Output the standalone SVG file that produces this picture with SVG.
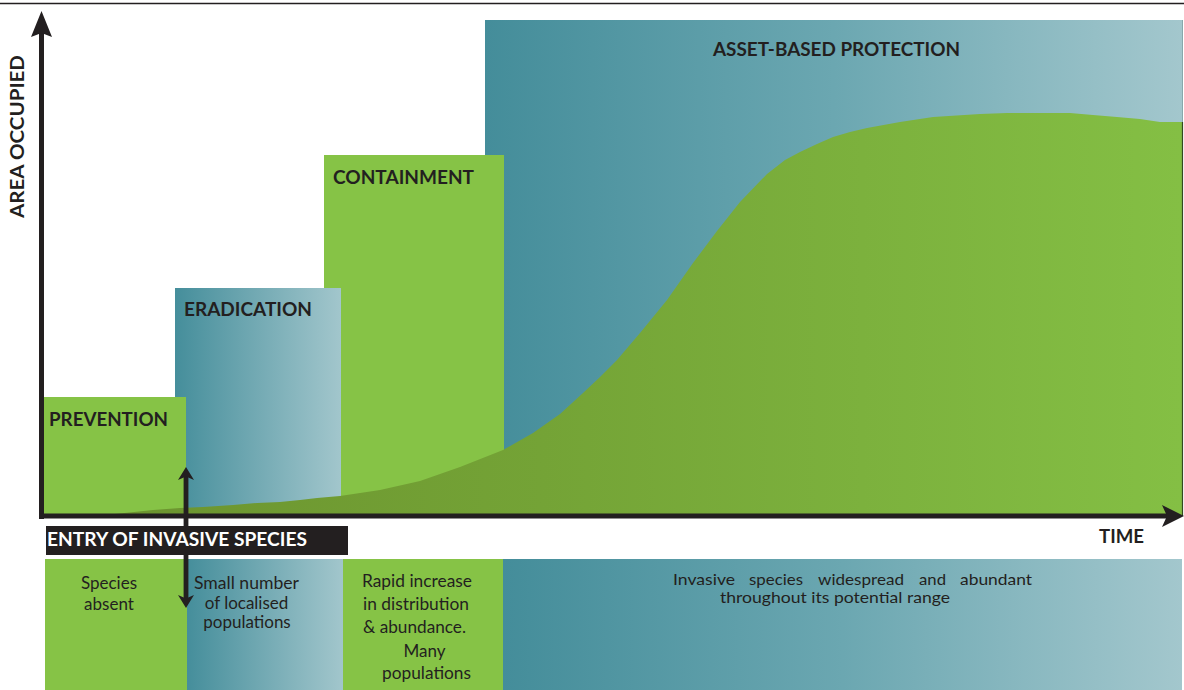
<svg xmlns="http://www.w3.org/2000/svg" width="1184" height="690" viewBox="0 0 1184 690">
<style>
.lbl{font-family:Lato,"Open Sans","Liberation Sans",sans-serif;font-weight:bold;font-size:19px;fill:#231f20}
.txt{font-family:Lato,"Open Sans","Liberation Sans",sans-serif;font-size:17px;fill:#231f20}
.txt2{font-family:Lato,"Open Sans","Liberation Sans",sans-serif;font-size:16px;fill:#231f20}
.green{fill:#86c346}
.ax{fill:#231f20}
</style>
<defs>
<linearGradient id="gAsset" gradientUnits="userSpaceOnUse" x1="485" y1="0" x2="1182" y2="0">
<stop offset="0" stop-color="#448d9a"/><stop offset="0.5" stop-color="#6ba7b1"/><stop offset="1" stop-color="#a3c7cd"/>
</linearGradient>
<linearGradient id="gErad" gradientUnits="userSpaceOnUse" x1="175" y1="0" x2="341" y2="0">
<stop offset="0" stop-color="#458e9b"/><stop offset="1" stop-color="#a2c6cc"/>
</linearGradient>
<linearGradient id="gB2" gradientUnits="userSpaceOnUse" x1="187" y1="0" x2="343" y2="0">
<stop offset="0" stop-color="#458e9b"/><stop offset="1" stop-color="#a2c6cc"/>
</linearGradient>
<linearGradient id="gB4" gradientUnits="userSpaceOnUse" x1="503" y1="0" x2="1182" y2="0">
<stop offset="0" stop-color="#448d9a"/><stop offset="0.5" stop-color="#6ba7b1"/><stop offset="1" stop-color="#a3c7cd"/>
</linearGradient>
<linearGradient id="gCurve" gradientUnits="userSpaceOnUse" x1="115" y1="0" x2="1182" y2="0">
<stop offset="0" stop-color="#6c942f"/><stop offset="0.4" stop-color="#74a336"/><stop offset="1" stop-color="#84bf44"/>
</linearGradient>
</defs>

<rect x="0" y="0" width="1184" height="690" fill="#ffffff"/>
<line x1="0" y1="3.5" x2="1184" y2="3.5" stroke="#231f20" stroke-width="1.5"/>

<g id="asset-based-protection">
<rect x="485" y="20" width="697" height="496" fill="url(#gAsset)"/>
<text class="lbl" x="713" y="56" textLength="247" lengthAdjust="spacingAndGlyphs">ASSET-BASED PROTECTION</text>
</g>
<g id="containment">
<rect class="green" x="324" y="155" width="180" height="361"/>
<text class="lbl" x="333" y="184" textLength="141" lengthAdjust="spacingAndGlyphs">CONTAINMENT</text>
</g>
<g id="eradication">
<rect x="175" y="288" width="166" height="228" fill="url(#gErad)"/>
<text class="lbl" x="184" y="316" textLength="128" lengthAdjust="spacingAndGlyphs">ERADICATION</text>
</g>
<g id="prevention">
<rect class="green" x="44" y="397" width="142" height="119"/>
<text class="lbl" x="49" y="426" textLength="119" lengthAdjust="spacingAndGlyphs">PREVENTION</text>
</g>

<g id="invasion-curve">
<path fill="url(#gCurve)" d="M115,516 L115,514 L153,510 L180,508 L203,507 L233,505 L257,503 L280,502 L300,500 L317,498 L340,496 L380,490 L420,481 L460,467 L503,450 L533,433 L560,414 L583,393 L600,377 L617,360 L640,333 L667,300 L693,263 L717,231 L740,202 L767,174 L785,160 L800,152 L817,144 L833,137 L850,132 L867,128 L900,122 L933,117 L980,114 L1007,113 L1070,113 L1093,115 L1117,117 L1140,119 L1160,122 L1182,122 L1182,516 Z"/>
<line x1="1182.5" y1="20" x2="1182.5" y2="122" stroke="#88a8ac" stroke-width="1"/>
<line x1="1182.5" y1="122" x2="1182.5" y2="516" stroke="#33491f" stroke-width="1.2"/>
</g>

<g id="axes">
<rect class="ax" x="39" y="33" width="5" height="486"/>
<path class="ax" d="M41.5,11 L52,37 L41.5,33 L31,37 Z"/>
<rect class="ax" x="39" y="513.5" width="1128" height="5"/>
<path class="ax" d="M1184,516 L1162,527 L1167,516 L1162,505 Z"/>
<text class="lbl" x="0" y="0" font-size="21" transform="translate(24,218) rotate(-90)" textLength="163" lengthAdjust="spacingAndGlyphs">AREA OCCUPIED</text>
<text class="lbl" x="1099" y="543" textLength="45" lengthAdjust="spacingAndGlyphs">TIME</text>
</g>

<g id="panel-absent">
<rect class="green" x="45" y="559" width="142" height="131"/>
<text class="txt" x="109" y="589" text-anchor="middle">Species</text>
<text class="txt" x="109" y="610" text-anchor="middle">absent</text>
</g>
<g id="panel-localised">
<rect x="187" y="559" width="156" height="131" fill="url(#gB2)"/>
<text class="txt" x="194" y="589" textLength="105" lengthAdjust="spacingAndGlyphs">Small number</text>
<text class="txt" x="246.5" y="609" text-anchor="middle">of localised</text>
<text class="txt" x="247" y="628" text-anchor="middle">populations</text>
</g>
<g id="panel-rapid">
<rect class="green" x="343" y="559" width="160" height="131"/>
<text class="txt" x="362" y="587" textLength="110" lengthAdjust="spacingAndGlyphs">Rapid increase</text>
<text class="txt" x="363" y="610" textLength="106" lengthAdjust="spacingAndGlyphs">in distribution</text>
<text class="txt" x="363" y="633" textLength="103" lengthAdjust="spacingAndGlyphs">&amp; abundance.</text>
<text class="txt" x="424.5" y="657" text-anchor="middle">Many</text>
<text class="txt" x="382" y="679" textLength="89" lengthAdjust="spacingAndGlyphs">populations</text>
</g>
<g id="panel-widespread">
<rect x="503" y="559" width="679" height="131" fill="url(#gB4)"/>
<text class="txt2" x="673" y="585" textLength="62" lengthAdjust="spacingAndGlyphs">Invasive</text>
<text class="txt2" x="749" y="585" textLength="54" lengthAdjust="spacingAndGlyphs">species</text>
<text class="txt2" x="818" y="585" textLength="86" lengthAdjust="spacingAndGlyphs">widespread</text>
<text class="txt2" x="919" y="585" textLength="27" lengthAdjust="spacingAndGlyphs">and</text>
<text class="txt2" x="960" y="585" textLength="72" lengthAdjust="spacingAndGlyphs">abundant</text>
<text class="txt2" x="720" y="603" textLength="230" lengthAdjust="spacingAndGlyphs">throughout its potential range</text>
</g>

<g id="connectors">
<rect class="ax" x="183.6" y="476" width="4.8" height="124"/>
<path class="ax" d="M186,467 L194,480 L186,476.5 L178,480 Z"/>
<path class="ax" d="M186,608 L194,595 L186,598.5 L178,595 Z"/>
</g>

<g id="entry-label">
<rect x="46" y="526" width="302" height="29" fill="#231f20"/>
<text class="lbl" x="47" y="546" font-size="18" style="fill:#ffffff" textLength="260" lengthAdjust="spacingAndGlyphs">ENTRY OF INVASIVE SPECIES</text>
</g>
</svg>
